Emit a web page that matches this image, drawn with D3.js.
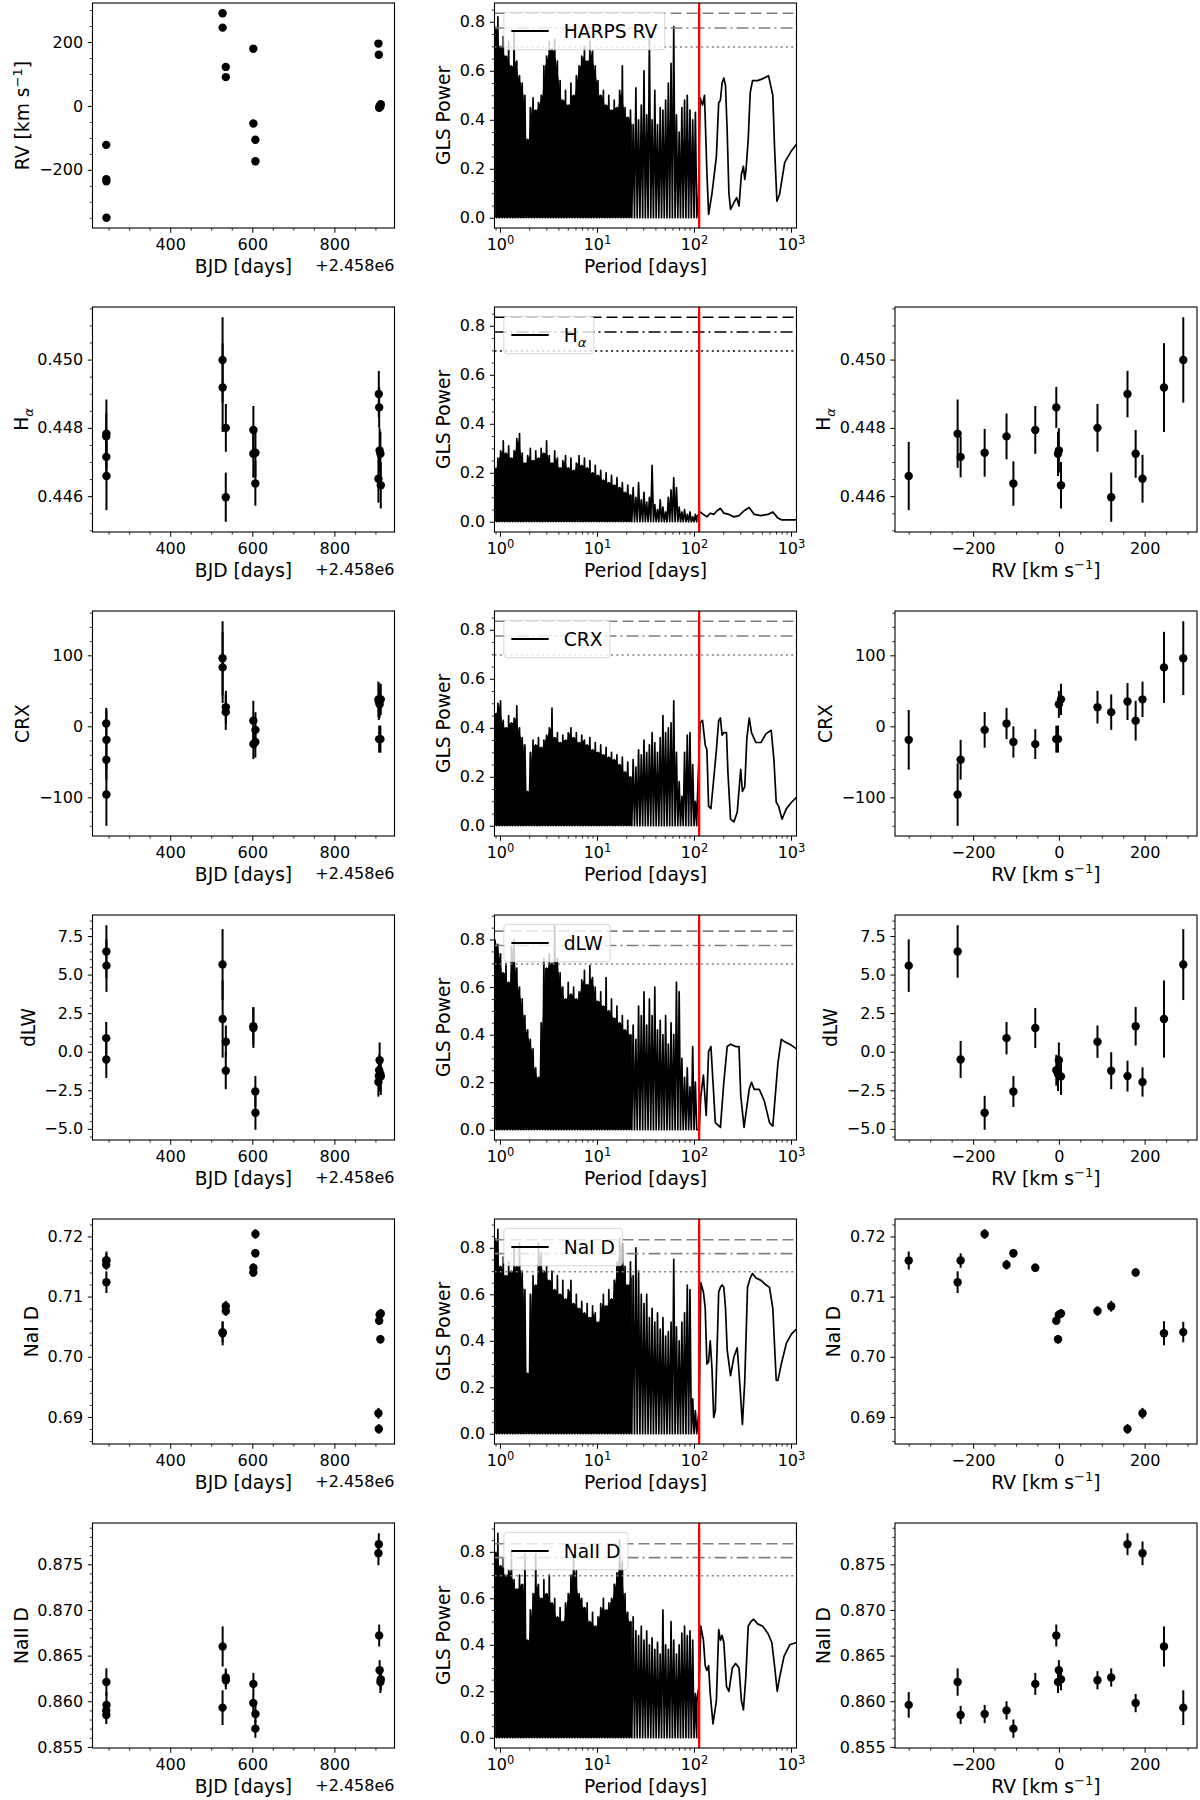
<!DOCTYPE html>
<html>
<head>
<meta charset="utf-8">
<script src="https://cdn.jsdelivr.net/npm/d3@7"></script>
<style>
  body { margin: 0; background: #fff; }
  svg text { font-family: "DejaVu Sans", sans-serif; fill: #000; }
</style>
</head>
<body>
<div id="viz"></div>
<script>
// ---- observations, one entry per spectrum ----
const bjd = [2458244.2, 2458244.4, 2458244.6, 2458244.8, 2458527.6, 2458527.8, 2458535.4, 2458535.6,
             2458602.5, 2458602.7, 2458607.5, 2458607.7, 2458907.3, 2458908.2, 2458909.1, 2458910.2,
             2458912.1, 2458913.0];
const rv = [-122, -229, -236, -350, 290, 245, 122, 90, 179, -55, -106, -173, 195, 160, -6, 0, -2, 5];
const halpha = [0.44775, 0.44715, 0.44783, 0.44659, 0.44999, 0.44918, 0.44597, 0.44800, 0.44724,
                0.44794, 0.44637, 0.44727, 0.44651, 0.44899, 0.44860, 0.44734, 0.44724, 0.44632];
const halphaErr = [0.00067, 0.0006, 0.001, 0.001, 0.00125, 0.0013, 0.00072, 0.0007, 0.0007,
                   0.0007, 0.00065, 0.0007, 0.0007, 0.00068, 0.0006, 0.00065, 0.00065, 0.00068];
const crx = [4, -47, -96, -19, 96, 83, 20, 27, 8, -25, -22, -5, 38, 35, -18, 31, -18, 38];
const crxErr = [22, 28, 44, 42, 52, 50, 25, 23, 28, 21, 22, 25, 25, 26, 19, 19, 19, 22];
const dlw = [0.88, -0.5, 6.5, 5.58, 5.65, 2.12, -1.23, 0.65, 1.65, 1.54, -2.58, -3.96, -1.96, -1.58,
             -1.2, -0.55, -1.45, -1.6];
const dlwErr = [1.05, 1.2, 1.7, 1.7, 2.3, 2.5, 1.2, 1.05, 1.25, 1.3, 1.0, 1.1, 0.95, 1.0, 1.0, 1.15, 1.1, 1.2];
const naD1 = [0.7153, 0.7160, 0.7124, 0.7160, 0.7041, 0.7039, 0.7084, 0.7076, 0.7140, 0.7148,
              0.7172, 0.7204, 0.6906, 0.6880, 0.7060, 0.7070, 0.7029, 0.7072];
const naD1Err = [0.0008, 0.0012, 0.0018, 0.0015, 0.0017, 0.0020, 0.0009, 0.0008, 0.0007, 0.0007,
                 0.0007, 0.0008, 0.0009, 0.0008, 0.0007, 0.0007, 0.0007, 0.0007];
const naD2 = [0.8590, 0.8585, 0.8621, 0.8596, 0.8593, 0.8660, 0.8626, 0.8623, 0.8598, 0.8619,
              0.8570, 0.8586, 0.8762, 0.8772, 0.8672, 0.8634, 0.8621, 0.8624];
const naD2Err = [0.0010, 0.0010, 0.0015, 0.0014, 0.0019, 0.0022, 0.0010, 0.0010, 0.0010, 0.0012,
                 0.0010, 0.0010, 0.0013, 0.0012, 0.0012, 0.0011, 0.0012, 0.0012];

// ---- periodograms ----
// dense part: peak positions shared by all panels, the trace drops to the floor between peaks
const spikeP = [0.892, 0.951, 1.014, 1.081, 1.153, 1.229, 1.311, 1.398, 1.491, 1.590,
  1.695, 1.807, 1.928, 2.055, 2.192, 2.337, 2.492, 2.658, 2.834, 3.022,
  3.222, 3.436, 3.664, 3.907, 4.166, 4.443, 4.737, 5.051, 5.386, 5.743,
  6.124, 6.530, 6.963, 7.425, 7.917, 8.443, 9.003, 9.600, 10.24, 10.92,
  11.64, 12.41, 13.24, 14.11, 15.05, 16.05, 17.11, 18.25, 19.46, 20.75,
  22.13, 23.59, 25.16, 26.83, 28.61, 30.50, 32.53, 34.69, 36.98, 39.44,
  42.05, 44.84, 47.82, 50.99, 54.37, 57.98, 61.82, 65.92, 70.30, 74.96,
  79.92, 85.23, 90.88, 96.92, 103.3];
const troughP = [0.921, 0.982, 1.047, 1.116, 1.191, 1.269, 1.354, 1.444, 1.540, 1.642,
  1.750, 1.866, 1.991, 2.122, 2.263, 2.413, 2.573, 2.745, 2.926, 3.121,
  3.327, 3.548, 3.783, 4.034, 4.302, 4.588, 4.891, 5.216, 5.562, 5.930,
  6.324, 6.743, 7.190, 7.667, 8.175, 8.718, 9.297, 9.913, 10.57, 11.28,
  12.02, 12.81, 13.67, 14.57, 15.54, 16.57, 17.67, 18.84, 20.09, 21.43,
  22.85, 24.36, 25.98, 27.70, 29.54, 31.49, 33.59, 35.82, 38.19, 40.73,
  43.42, 46.30, 49.38, 52.65, 56.14, 59.87, 63.83, 68.07, 72.59, 77.40,
  82.53, 88.01, 93.84, 100.1, 106.7];
const denseFloor = 0;
const solidUpTo = 24;   // below this period the trace is an unresolved solid band

const rvPeaks = [0.78,0.82,0.70,0.74,0.66,0.72,0.62,0.76,0.64,0.58, 0.55,0.50,0.32,0.45,0.49,0.44,0.47,0.50,0.62,0.66,
  0.72,0.69,0.73,0.64,0.56,0.48,0.52,0.46,0.55,0.50, 0.58,0.62,0.66,0.70,0.64,0.72,0.68,0.62,0.56,0.50,
  0.52,0.46,0.50,0.44,0.48,0.45,0.52,0.62,0.45,0.41, 0.44,0.38,0.53,0.40,0.46,0.60,0.42,0.75,0.40,0.52,
  0.38,0.45,0.44,0.48,0.55,0.63,0.78,0.42,0.35,0.45, 0.48,0.50,0.44,0.40,0.43];
const rvTail = [[111.1,0.09],[115.6,0.49],[122.4,0.46],[128.3,0.50],[135.8,0.185],[141.4,0.014],[153.3,0.10],
  [170.1,0.25],[179.7,0.47],[187.2,0.48],[194.8,0.55],[203,0.57],[211.2,0.54],[219.9,0.35],[229,0.10],
  [238,0.034],[257.8,0.062],[275.5,0.082],[291.1,0.048],[308.1,0.178],[323,0.21],[333.8,0.157],[344.5,0.20],
  [362.1,0.32],[379.5,0.51],[401,0.56],[453,0.56],[498.9,0.566],[553.6,0.575],[586.3,0.58],[649,0.50],
  [676,0.29],[715.9,0.068],[762.7,0.096],[861,0.226],[1012,0.274],[1139,0.30]];

const haPeaks = [0.22,0.26,0.29,0.33,0.28,0.31,0.26,0.29,0.34,0.36, 0.28,0.24,0.27,0.30,0.25,0.29,0.26,0.30,0.28,0.33,
  0.27,0.24,0.29,0.26,0.22,0.25,0.27,0.22,0.26,0.21, 0.24,0.27,0.23,0.26,0.22,0.25,0.20,0.23,0.19,0.21,
  0.17,0.20,0.16,0.19,0.15,0.18,0.14,0.16,0.12,0.15, 0.11,0.14,0.10,0.16,0.09,0.12,0.08,0.10,0.23,0.07,
  0.05,0.09,0.06,0.04,0.10,0.13,0.18,0.14,0.06,0.04, 0.05,0.03,0.04,0.02,0.03];
const haTail = [[107,0.02],[115.6,0.04],[125,0.03],[135.8,0.02],[147,0.035],[159.6,0.03],[173,0.045],
  [187.2,0.055],[203,0.035],[229,0.03],[257.8,0.02],[291.1,0.025],[328,0.045],[370.7,0.058],[417.6,0.03],
  [490.6,0.025],[576.3,0.03],[649,0.04],[733,0.015],[794.3,0.008],[1139,0.008]];

const crxPeaks = [0.46,0.50,0.51,0.43,0.40,0.45,0.42,0.44,0.49,0.40, 0.36,0.33,0.14,0.30,0.35,0.33,0.36,0.32,0.35,0.37,
  0.40,0.48,0.36,0.38,0.34,0.37,0.35,0.38,0.40,0.36, 0.38,0.34,0.37,0.35,0.33,0.36,0.31,0.34,0.30,0.33,
  0.29,0.32,0.28,0.30,0.27,0.29,0.25,0.28,0.22,0.26, 0.20,0.27,0.24,0.31,0.29,0.35,0.30,0.33,0.38,0.34,
  0.30,0.36,0.45,0.38,0.40,0.42,0.51,0.30,0.18,0.12, 0.30,0.37,0.38,0.25,0.10];
const crxTail = [[107,0.04],[115.6,0.42],[122.4,0.43],[130.5,0.33],[135.8,0.31],[141.4,0.08],[149.4,0.07],
  [159.6,0.19],[170.1,0.31],[179.7,0.43],[187.2,0.44],[194.8,0.37],[203,0.38],[216.3,0.38],[223.5,0.22],
  [238,0.027],[257.8,0.016],[279,0.055],[303,0.23],[315.5,0.14],[333.8,0.16],[350.2,0.355],[370.7,0.44],
  [391.6,0.38],[434.6,0.34],[490.6,0.34],[553.6,0.376],[625,0.39],[666.3,0.27],[704,0.096],[745.1,0.08],
  [807.6,0.027],[896.7,0.07],[1012,0.096],[1139,0.116]];

const dlwPeaks = [0.80,0.78,0.74,0.66,0.70,0.62,0.77,0.80,0.68,0.60, 0.55,0.48,0.42,0.38,0.34,0.26,0.22,0.45,0.72,0.68,
  0.74,0.70,0.86,0.72,0.66,0.60,0.55,0.62,0.57,0.60, 0.55,0.58,0.63,0.67,0.61,0.69,0.64,0.60,0.54,0.58,
  0.52,0.64,0.50,0.55,0.47,0.52,0.45,0.48,0.42,0.46, 0.40,0.44,0.38,0.52,0.48,0.58,0.44,0.55,0.48,0.60,
  0.42,0.46,0.40,0.48,0.36,0.45,0.40,0.62,0.58,0.30, 0.22,0.26,0.18,0.35,0.20];
const dlwTail = [[113,0.0],[117.5,0.14],[125,0.23],[133.6,0.06],[141.4,0.33],[149.4,0.35],[157,0.2],
  [165.9,0.03],[187.2,0.01],[203,0.20],[219.9,0.35],[238,0.36],[268.5,0.35],[291.1,0.35],[303,0.145],
  [328,0.01],[370.7,0.17],[391.6,0.20],[417.6,0.17],[471.1,0.17],[532,0.12],[600.2,0.03],[649,0.015],
  [733,0.28],[794,0.38],[861,0.37],[1012,0.355],[1139,0.34]];

const na1Peaks = [0.84,0.88,0.72,0.76,0.68,0.74,0.70,0.80,0.72,0.82, 0.70,0.62,0.26,0.60,0.68,0.64,0.82,0.78,0.70,0.72,
  0.66,0.70,0.62,0.68,0.60,0.66,0.58,0.62,0.66,0.56, 0.60,0.54,0.57,0.52,0.56,0.50,0.55,0.52,0.48,0.56,
  0.60,0.55,0.62,0.58,0.66,0.74,0.84,0.82,0.72,0.64, 0.74,0.68,0.80,0.70,0.60,0.56,0.60,0.50,0.54,0.48,
  0.52,0.45,0.50,0.42,0.44,0.48,0.75,0.46,0.40,0.48, 0.52,0.64,0.62,0.15,0.10];
const na1Tail = [[113,0.11],[117.5,0.65],[125,0.61],[130.5,0.54],[135.8,0.30],[141.4,0.31],[147,0.40],
  [153.3,0.28],[159.6,0.07],[165.9,0.10],[179.7,0.61],[187.2,0.63],[194.8,0.64],[203,0.63],[211.2,0.54],
  [219.9,0.36],[238,0.25],[257.8,0.33],[279,0.37],[298.1,0.20],[315.5,0.04],[333.8,0.23],[356.2,0.63],
  [379.5,0.67],[401,0.69],[434.6,0.67],[490.6,0.66],[553.6,0.64],[600.2,0.63],[649,0.54],[704.1,0.23],
  [733,0.23],[794,0.30],[896.7,0.39],[1012,0.43],[1139,0.45]];

const na2Peaks = [0.80,0.88,0.74,0.77,0.70,0.72,0.80,0.68,0.64,0.70, 0.66,0.79,0.42,0.55,0.62,0.79,0.66,0.60,0.68,0.62,
  0.70,0.58,0.60,0.52,0.56,0.50,0.58,0.62,0.70,0.78, 0.72,0.62,0.60,0.56,0.58,0.50,0.54,0.48,0.52,0.56,
  0.60,0.55,0.58,0.60,0.66,0.71,0.85,0.76,0.62,0.54, 0.50,0.52,0.46,0.44,0.48,0.42,0.46,0.40,0.43,0.38,
  0.41,0.36,0.55,0.40,0.38,0.50,0.42,0.36,0.40,0.45, 0.48,0.44,0.46,0.42,0.19];
const na2Tail = [[107,0.16],[113,0.23],[117.5,0.48],[125,0.42],[130.5,0.31],[135.8,0.29],[141.4,0.31],
  [147,0.19],[157,0.06],[170.1,0.16],[179.7,0.465],[187.2,0.42],[194.8,0.44],[203,0.41],[216.3,0.22],
  [229,0.20],[248.2,0.30],[268.5,0.32],[291.1,0.30],[308.1,0.16],[323,0.12],[342,0.26],[362.1,0.48],
  [386,0.50],[411.5,0.51],[453,0.49],[510.7,0.48],[576.3,0.45],[634.2,0.41],[676,0.31],[720.8,0.20],
  [762.7,0.26],[847,0.35],[970,0.40],[1139,0.41]];

const fapLevels = [0.835, 0.775, 0.697];   // 0.1%, 1%, 10%
const redPeriod = 113;
const periodLimits = [0.878, 1139];

// ---- tick labels ----
const bjdTicks = [2458400, 2458600, 2458800];
const rvTicks = [-200, 0, 200];
const haTicks = [0.446, 0.448, 0.450];
const crxTicks = [-100, 0, 100];
const dlwTicks = [-5, -2.5, 0, 2.5, 5, 7.5];
const na1Ticks = [0.69, 0.70, 0.71, 0.72];
const na2Ticks = [0.855, 0.860, 0.865, 0.870, 0.875];
const powTicks = [0, 0.2, 0.4, 0.6, 0.8];
const perTicks = [1, 10, 100, 1000];

// ---- layout ----
const colX = [92.5, 494.5, 895];
const pw = 302, ph = 225;
const rowTop = i => 3 + i * 304;
const tickFont = 16, labelFont = 18.7;
const fapDash = ['11,5', '12,4,2,4', '2,3.3'];

const rows = [
  {vals: rv, err: null, ticks: rvTicks, minor: 50, fmt: d3.format('d'),
   label: [['RV [km s'], ['\u22121', 'sup'], [']']], peaks: rvPeaks, tail: rvTail, fap: 'gray', right: false},
  {vals: halpha, err: halphaErr, ticks: haTicks, minor: 0.0005, fmt: d3.format('.3f'),
   label: [['H'], ['\u03b1', 'sub']], peaks: haPeaks, tail: haTail, fap: '#000', right: true},
  {vals: crx, err: crxErr, ticks: crxTicks, minor: 20, fmt: d3.format('d'),
   label: [['CRX']], peaks: crxPeaks, tail: crxTail, fap: 'gray', right: true},
  {vals: dlw, err: dlwErr, ticks: dlwTicks, minor: 0.5, fmt: d3.format('.1f'),
   label: [['dLW']], peaks: dlwPeaks, tail: dlwTail, fap: 'gray', right: true},
  {vals: naD1, err: naD1Err, ticks: na1Ticks, minor: 0.002, fmt: d3.format('.2f'),
   label: [['NaI D']], peaks: na1Peaks, tail: na1Tail, fap: 'gray', right: true},
  {vals: naD2, err: naD2Err, ticks: na2Ticks, minor: 0.001, fmt: d3.format('.3f'),
   label: [['NaII D']], peaks: na2Peaks, tail: na2Tail, fap: 'gray', right: true}
];
const legendNames = [[['HARPS RV']], [['H'], ['\u03b1', 'sub']], [['CRX']], [['dLW']], [['NaI D']], [['NaII D']]];
const rvLabel = [['RV [km s'], ['\u22121', 'sup'], [']']];

const svg = d3.select('#viz').append('svg')
  .attr('width', 1200).attr('height', 1800).attr('viewBox', '0 0 1200 1800');
svg.append('rect').attr('width', 1200).attr('height', 1800).attr('fill', '#fff');

function padExtent(vals) {
  const lo = d3.min(vals), hi = d3.max(vals), m = (hi - lo) * 0.05;
  return [lo - m, hi + m];
}

function minorTicks(domain, step, majors) {
  const out = [];
  for (let v = Math.ceil(domain[0] / step - 1e-9) * step; v <= domain[1] + 1e-12; v += step) {
    const r = +v.toPrecision(12);
    if (!majors.some(m => Math.abs(m - r) < step * 1e-3)) out.push(r);
  }
  return out;
}

function logMinors(domain) {
  const out = [];
  [0.1, 1, 10, 100, 1000].forEach(dec => {
    for (let m = 2; m <= 9; m++) {
      const v = m * dec;
      if (v >= domain[0] && v <= domain[1]) out.push(v);
    }
  });
  return out;
}

// text made of plain / superscript / subscript pieces
function rich(text, parts, size) {
  let shift = 0;
  parts.forEach(([s, kind]) => {
    const target = kind === 'sup' ? -0.42 * size : kind === 'sub' ? 0.28 * size : 0;
    const t = text.append('tspan').attr('dy', target - shift).text(s);
    shift = target;
    if (kind) t.attr('font-size', size * 0.7);
    if (kind === 'sub') t.attr('font-style', 'italic');
  });
}

function styleAxis(a) {
  a.select('.domain').remove();
  a.attr('font-size', tickFont);
  a.selectAll('line').attr('stroke-width', 1);
}

function xAxis(g, x, ticks, minors, fmt) {
  const a = g.append('g').attr('transform', `translate(0,${ph})`)
    .call(d3.axisBottom(x).tickValues(ticks).tickSize(4.7).tickPadding(6).tickFormat(fmt));
  styleAxis(a);
  const b = g.append('g').attr('transform', `translate(0,${ph})`)
    .call(d3.axisBottom(x).tickValues(minors).tickSize(2.7).tickFormat(''));
  styleAxis(b);
  b.selectAll('line').attr('stroke-width', 0.8);
  return a;
}

function yAxis(g, y, ticks, minors, fmt) {
  const a = g.append('g')
    .call(d3.axisLeft(y).tickValues(ticks).tickSize(4.7).tickPadding(4.7).tickFormat(fmt));
  styleAxis(a);
  const b = g.append('g')
    .call(d3.axisLeft(y).tickValues(minors).tickSize(2.7).tickFormat(''));
  styleAxis(b);
  b.selectAll('line').attr('stroke-width', 0.8);
  return a;
}

function yLabel(g, axisG, parts) {
  const bb = axisG.node().getBBox();
  const t = g.append('text')
    .attr('transform', `translate(${bb.x - 9.7},${ph / 2}) rotate(-90)`)
    .attr('text-anchor', 'middle').attr('font-size', labelFont);
  rich(t, parts, labelFont);
}

function xLabel(g, parts) {
  const t = g.append('text').attr('x', pw / 2).attr('y', ph + 45)
    .attr('text-anchor', 'middle').attr('font-size', labelFont);
  rich(t, parts, labelFont);
}

function frame(g) {
  g.append('rect').attr('width', pw).attr('height', ph)
    .attr('fill', 'none').attr('stroke', '#000').attr('stroke-width', 1.1);
}

function errorPoints(g, xs, ys, es, x, y) {
  if (es) {
    g.append('g').selectAll('line').data(ys).join('line')
      .attr('x1', (d, i) => x(xs[i])).attr('x2', (d, i) => x(xs[i]))
      .attr('y1', (d, i) => y(d - es[i])).attr('y2', (d, i) => y(d + es[i]))
      .attr('stroke', '#000').attr('stroke-width', 2);
  }
  g.append('g').selectAll('circle').data(ys).join('circle')
    .attr('cx', (d, i) => x(xs[i])).attr('cy', d => y(d)).attr('r', 4.2).attr('fill', '#000');
}

function yDomainOf(row) {
  if (!row.err) return padExtent(row.vals);
  return padExtent(row.vals.map((v, i) => v - row.err[i]).concat(row.vals.map((v, i) => v + row.err[i])));
}

rows.forEach((row, r) => {
  const yDom = yDomainOf(row);
  const y = d3.scaleLinear().domain(yDom).range([ph, 0]);
  const yMin = minorTicks(yDom, row.minor, row.ticks);

  // ---- left: time series ----
  const gl = svg.append('g').attr('transform', `translate(${colX[0]},${rowTop(r)})`);
  const xDomT = padExtent(bjd);
  const xt = d3.scaleLinear().domain(xDomT).range([0, pw]);
  errorPoints(gl, bjd, row.vals, row.err, xt, y);
  xAxis(gl, xt, bjdTicks, minorTicks(xDomT, 50, bjdTicks), d => d3.format('d')(d - 2458000));
  const ayl = yAxis(gl, y, row.ticks, yMin, row.fmt);
  yLabel(gl, ayl, row.label);
  xLabel(gl, [['BJD [days]']]);
  gl.append('text').attr('x', pw).attr('y', ph + 43).attr('text-anchor', 'end')
    .attr('font-size', tickFont).text('+2.458e6');
  frame(gl);

  // ---- middle: periodogram ----
  const gm = svg.append('g').attr('transform', `translate(${colX[1]},${rowTop(r)})`);
  const xp = d3.scaleLog().domain(periodLimits).range([0, pw]);
  const pts = [];
  spikeP.forEach((p, k) => { pts.push([p, row.peaks[k]]); pts.push([troughP[k], denseFloor]); });
  row.tail.forEach(d => pts.push(d));
  const hi = Math.max(d3.max(pts, d => d[1]), d3.max(fapLevels));
  const yp = d3.scaleLinear().domain([-0.05 * hi, 1.05 * hi]).range([ph, 0]);
  const clipId = `clip${r}`;
  gm.append('clipPath').attr('id', clipId).append('rect').attr('width', pw).attr('height', ph);
  const body = gm.append('g').attr('clip-path', `url(#${clipId})`);
  // unresolved band: solid up to the lower of two neighbouring peaks, spikes stick out above
  const band = [[spikeP[0], row.peaks[0]]].concat(
    troughP.slice(0, -1).map((p, k) => [p, Math.min(row.peaks[k], row.peaks[k + 1])])
  ).filter(d => d[0] <= solidUpTo);
  body.append('path').datum(band)
    .attr('d', d3.area().x(d => xp(d[0])).y0(yp(denseFloor)).y1(d => yp(d[1])))
    .attr('fill', '#000');
  body.append('path').datum(pts)
    .attr('d', d3.line().x(d => xp(d[0])).y(d => yp(d[1])))
    .attr('fill', 'none').attr('stroke', '#000').attr('stroke-width', 1.7)
    .attr('stroke-linejoin', 'round');
  body.selectAll('.fap').data(fapLevels).join('line').attr('class', 'fap')
    .attr('x1', 0).attr('x2', pw).attr('y1', d => yp(d)).attr('y2', d => yp(d))
    .attr('stroke', row.fap).attr('stroke-width', 1.6)
    .attr('stroke-dasharray', (d, i) => fapDash[i]);
  body.append('line').attr('x1', xp(redPeriod)).attr('x2', xp(redPeriod))
    .attr('y1', 0).attr('y2', ph).attr('stroke', '#ff0000').attr('stroke-width', 2.3);

  // legend
  const f = labelFont;
  const lg = gm.append('g').attr('transform', `translate(${0.5 * f},${0.5 * f})`);
  const box = lg.append('rect').attr('rx', 3).attr('ry', 3)
    .attr('fill', '#fff').attr('fill-opacity', 0.8)
    .attr('stroke', '#ccc').attr('stroke-opacity', 0.8).attr('stroke-width', 1);
  const boxH = 2 * 0.4 * f + 1.2 * f;
  lg.append('line').attr('x1', 0.4 * f).attr('x2', 2.4 * f)
    .attr('y1', boxH / 2).attr('y2', boxH / 2).attr('stroke', '#000').attr('stroke-width', 2);
  const lt = lg.append('text').attr('x', 3.2 * f).attr('y', boxH / 2 + 0.35 * f).attr('font-size', f);
  rich(lt, legendNames[r], f);
  const tw = lt.node().getComputedTextLength();
  box.attr('width', 3.2 * f + tw + 0.4 * f).attr('height', boxH);

  const axp = xAxis(gm, xp, perTicks, logMinors(periodLimits), () => '');
  axp.selectAll('.tick text').each(function (d) {
    const t = d3.select(this);
    t.append('tspan').text('10');
    t.append('tspan').attr('dy', -6.5).attr('font-size', 11.5).text(Math.round(Math.log10(d)));
  });
  const ayp = yAxis(gm, yp, powTicks, minorTicks(yp.domain(), 0.05, powTicks), d3.format('.1f'));
  yLabel(gm, ayp, [['GLS Power']]);
  xLabel(gm, [['Period [days]']]);
  frame(gm);

  // ---- right: indicator vs RV ----
  if (row.right) {
    const gr = svg.append('g').attr('transform', `translate(${colX[2]},${rowTop(r)})`);
    const xDomR = padExtent(rv);
    const xr = d3.scaleLinear().domain(xDomR).range([0, pw]);
    errorPoints(gr, rv, row.vals, row.err, xr, y);
    xAxis(gr, xr, rvTicks, minorTicks(xDomR, 50, rvTicks), d3.format('d'));
    const ayr = yAxis(gr, y, row.ticks, yMin, row.fmt);
    yLabel(gr, ayr, row.label);
    xLabel(gr, rvLabel);
    frame(gr);
  }
});
</script>
</body>
</html>
